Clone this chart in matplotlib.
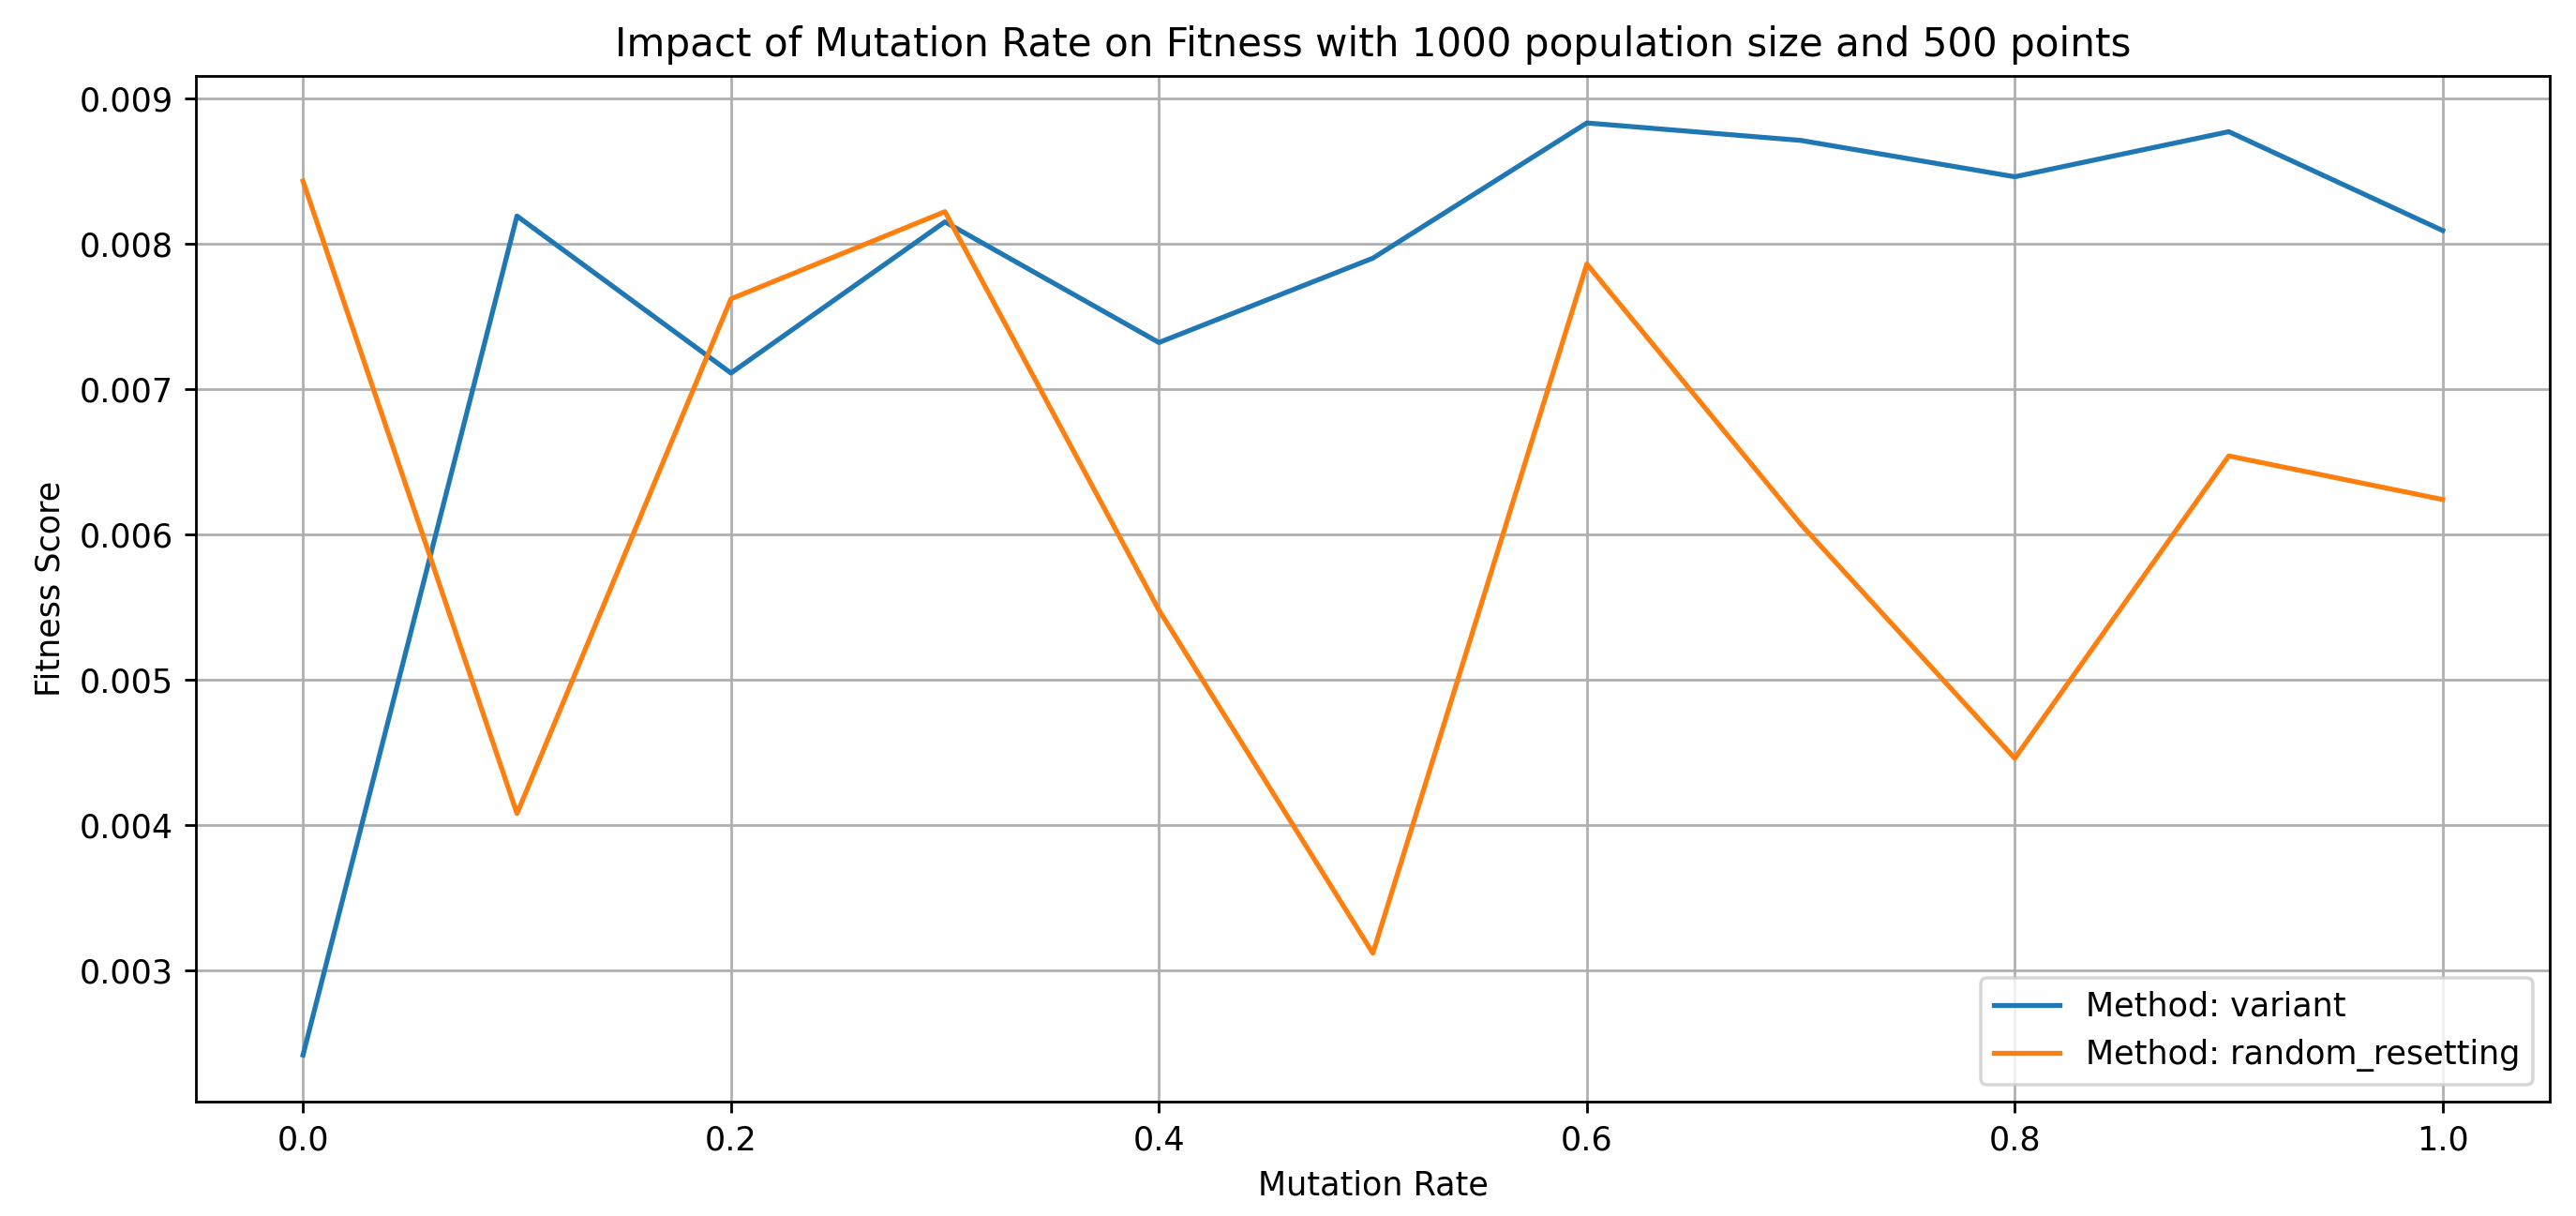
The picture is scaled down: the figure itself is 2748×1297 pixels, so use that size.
import matplotlib.pyplot as plt
import numpy as np

mutation_rates = [0.0, 0.1, 0.2, 0.3, 0.4, 0.5, 0.6, 0.7, 0.8, 0.9, 1.0]
variant_fitness = [0.00242, 0.00819, 0.00711, 0.00815, 0.00732, 0.00790,
                   0.00883, 0.00871, 0.00846, 0.00877, 0.00809]
random_resetting_fitness = [0.00843, 0.00408, 0.00762, 0.00822, 0.00548, 0.00312,
                            0.00786, 0.00607, 0.00446, 0.00654, 0.00624]

DPI = 252
fig = plt.figure(figsize=(2748 / DPI, 1297 / DPI), dpi=DPI)
ax = fig.add_axes([0.0761, 0.0941, 0.9898 - 0.0761, 0.9372 - 0.0941])
ax.plot(mutation_rates, variant_fitness, label="Method: variant")
ax.plot(mutation_rates, random_resetting_fitness, label="Method: random_resetting")
ax.set_title("Impact of Mutation Rate on Fitness with 1000 population size and 500 points")
ax.set_xlabel("Mutation Rate")
ax.set_ylabel("Fitness Score")
ax.legend(loc="lower right")
ax.grid(True)
fig.savefig("out.png", dpi=DPI)
